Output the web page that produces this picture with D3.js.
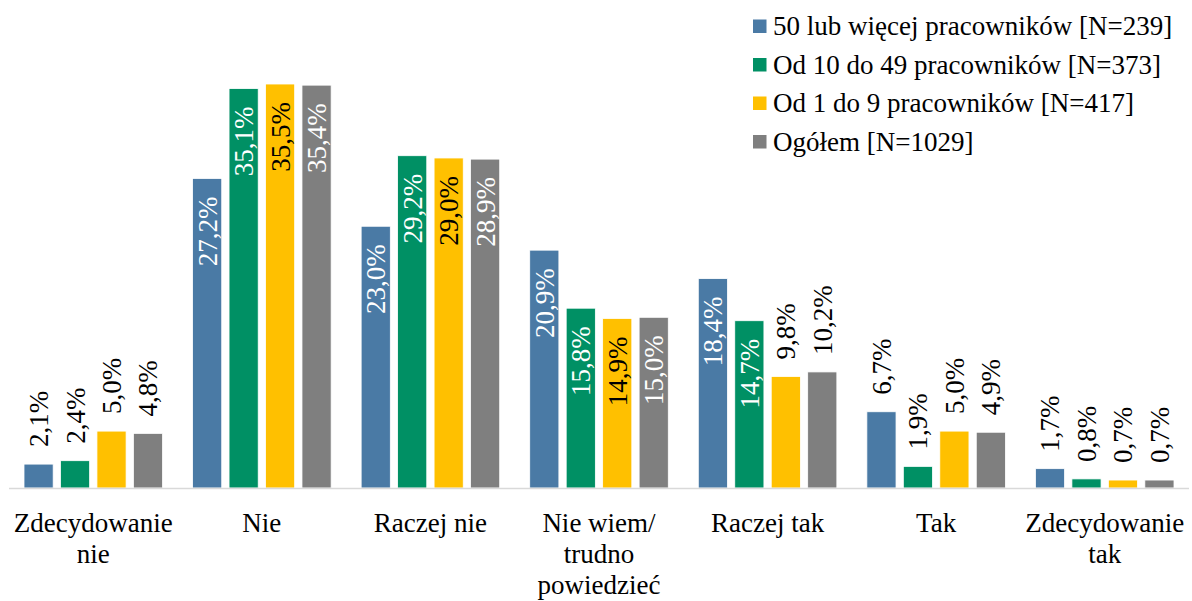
<!DOCTYPE html>
<html>
<head>
<meta charset="utf-8">
<script src="https://cdn.jsdelivr.net/npm/d3@7"></script>
</head>
<body style="margin:0">
<svg id="c" width="1192" height="601" font-family="Liberation Serif"></svg>
<script>
// dane
const categories = ['Zdecydowanie nie', 'Nie', 'Raczej nie', 'Nie wiem/ trudno powiedzieć', 'Raczej tak', 'Tak', 'Zdecydowanie tak'];
const catLines = [['Zdecydowanie', 'nie'], ['Nie'], ['Raczej nie'], ['Nie wiem/', 'trudno', 'powiedzieć'], ['Raczej tak'], ['Tak'], ['Zdecydowanie', 'tak']];
const seriesNames = ['50 lub więcej pracowników [N=239]', 'Od 10 do 49 pracowników [N=373]', 'Od 1 do 9 pracowników [N=417]', 'Ogółem [N=1029]'];
const s50   = [2.1, 27.2, 23.0, 20.9, 18.4, 6.7, 1.7];
const s1049 = [2.4, 35.1, 29.2, 15.8, 14.7, 1.9, 0.8];
const s19   = [5.0, 35.5, 29.0, 14.9, 9.8, 5.0, 0.7];
const sAll  = [4.8, 35.4, 28.9, 15.0, 10.2, 4.9, 0.7];
const seriesValues = [s50, s1049, s19, sAll];

const colors = ['#4a7aa5', '#009064', '#ffc000', '#7f7f7f'];
const labelInside = ['#fff', '#fff', '#000', '#fff'];
const serif = t => t.style('font-family', '"Liberation Serif"').attr('font-size', 27);

const svg = d3.select('#c');

const x0 = d3.scaleBand().domain(categories).range([9, 1189]).paddingInner(0).paddingOuter(0);
const x1 = d3.scaleBand().domain(seriesNames).range([15, x0.bandwidth() - 15]).paddingInner(0.2).paddingOuter(0);
const y = d3.scaleLinear().domain([0, 40]).range([488, 32.8]);

const rows = [];
categories.forEach((c, i) => {
  seriesNames.forEach((s, j) => rows.push({ cat: c, ser: s, j, v: seriesValues[j][i] }));
});

// słupki
svg.append('g').selectAll('rect')
  .data(rows)
  .join('rect')
  .attr('x', d => x0(d.cat) + x1(d.ser))
  .attr('y', d => y(d.v))
  .attr('width', x1.bandwidth())
  .attr('height', d => y(0) - y(d.v))
  .attr('fill', d => colors[d.j])
  .attr('stroke', '#fff')
  .attr('stroke-width', 0.8);

// oś
svg.append('line')
  .attr('x1', 9).attr('x2', 1189)
  .attr('y1', y(0) + 0.5).attr('y2', y(0) + 0.5)
  .attr('stroke', '#d9d9d9').attr('stroke-width', 1.5);

// etykiety wartości
const fmt = v => d3.format('.1f')(v).replace('.', ',') + '%';
svg.append('g').selectAll('text')
  .data(rows)
  .join('text')
  .call(serif)
  .attr('dy', '0.35em')
  .attr('transform', d => {
    const cx = x0(d.cat) + x1(d.ser) + x1.bandwidth() / 2;
    const ty = d.v > 12 ? y(d.v) + 18 : y(d.v) - 17;
    return `translate(${cx},${ty}) rotate(-90)`;
  })
  .attr('text-anchor', d => d.v > 12 ? 'end' : 'start')
  .attr('fill', d => d.v > 12 ? labelInside[d.j] : '#000')
  .text(d => fmt(d.v));

// etykiety kategorii
categories.forEach((c, i) => {
  const cx = x0(c) + x0.bandwidth() / 2;
  catLines[i].forEach((ln, k) => {
    svg.append('text')
      .call(serif)
      .attr('x', cx).attr('y', 532 + k * 31)
      .attr('text-anchor', 'middle')
      .attr('fill', '#000')
      .text(ln);
  });
});

// legenda
const leg = svg.append('g').selectAll('g')
  .data(seriesNames)
  .join('g')
  .attr('transform', (d, i) => `translate(753,${26 + i * 38.5})`);
leg.append('rect')
  .attr('x', 0).attr('y', -6.5).attr('width', 13.5).attr('height', 13.5)
  .attr('fill', (d, i) => colors[i]);
leg.append('text')
  .call(serif)
  .attr('x', 20).attr('y', 9)
  .attr('fill', '#000')
  .text(d => d);
</script>
</body>
</html>
